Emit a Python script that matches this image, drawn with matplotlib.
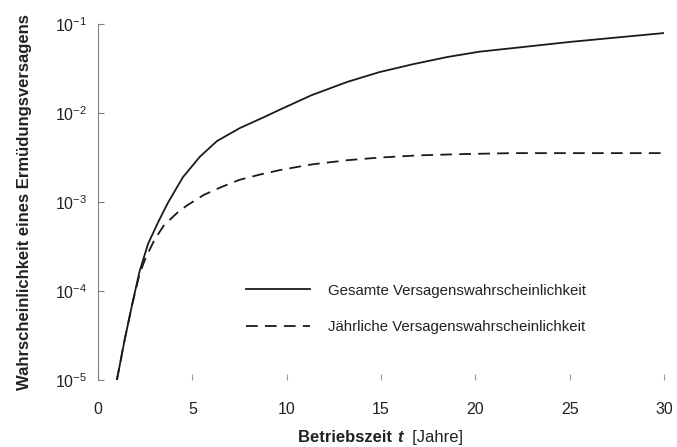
import matplotlib

matplotlib.use("Agg")
import matplotlib.pyplot as plt
import numpy as np
from matplotlib.offsetbox import AnchoredOffsetbox, HPacker, TextArea

plt.rcParams["font.family"] = ["Liberation Sans", "DejaVu Sans"]
plt.rcParams["mathtext.fontset"] = "custom"
plt.rcParams["mathtext.rm"] = "Liberation Sans"
plt.rcParams["mathtext.it"] = "Liberation Sans:italic"
plt.rcParams["mathtext.bf"] = "Liberation Sans:bold"

# values (log10 of the probability)
t_total = [1.0, 1.4, 1.8, 2.2, 2.65, 3.2, 3.7, 4.5, 5.4, 6.3, 7.5, 8.9, 9.65, 11.3,
           13.2, 14.9, 16.7, 18.5, 20.2, 22.4, 25, 27.5, 30]
log_total = [-5.0, -4.56, -4.16, -3.78, -3.47, -3.22, -3.01, -2.72, -2.49, -2.315,
             -2.17, -2.035, -1.96, -1.80, -1.65, -1.54, -1.45, -1.37, -1.31, -1.26,
             -1.20, -1.15, -1.10]

t_annual = [1.0, 1.4, 1.8, 2.2, 2.5, 3.0, 3.5, 4.2, 4.7, 5.6, 6.55, 7.5, 8.6, 9.65,
            10.7, 11.4, 13.2, 14.9, 17, 19.5, 22, 25, 30]
log_annual = [-5.0, -4.56, -4.16, -3.81, -3.64, -3.42, -3.26, -3.12, -3.04, -2.92,
              -2.83, -2.75, -2.69, -2.64, -2.60, -2.575, -2.53, -2.50, -2.475, -2.46,
              -2.45, -2.45, -2.45]

labels = ["Gesamte Versagenswahrscheinlichkeit",
          "Jährliche Versagenswahrscheinlichkeit"]
x_ticks = [0, 5, 10, 15, 20, 25, 30]
y_ticks = [1e-5, 1e-4, 1e-3, 1e-2, 1e-1]
y_ticklabels = [r"10$^{-5}$", r"10$^{-4}$", r"10$^{-3}$", r"10$^{-2}$", r"10$^{-1}$"]

fig = plt.figure(figsize=(6.77, 4.47), dpi=100)
ax = fig.add_axes([0.1448, 0.150, 0.981 - 0.1448, 0.946 - 0.150])

ax.plot(t_total, 10 ** np.array(log_total), color="#1a1a1a", lw=1.3, label=labels[0])
ax.plot(t_annual, 10 ** np.array(log_annual), color="#1a1a1a", lw=1.3,
        ls=(0, (6.5, 4)), label=labels[1])

ax.set_yscale("log")
ax.set_xlim(0, 30)
ax.set_ylim(1e-5, 1e-1)
ax.set_xticks(x_ticks)
ax.set_yticks(y_ticks)
ax.set_yticklabels(y_ticklabels)
ax.minorticks_off()

for s in ("top", "right", "bottom"):
    ax.spines[s].set_visible(False)
ax.spines["left"].set_color("#808080")
ax.spines["left"].set_linewidth(0.8)
ax.tick_params(axis="y", direction="in", length=4, width=0.8, color="#808080",
               labelsize=11.5, pad=8, labelcolor="#222222")
ax.tick_params(axis="x", direction="in", length=4, width=0.8, color="#999999",
               labelsize=11.5, pad=16, labelcolor="#222222")

ax.set_ylabel("Wahrscheinlichkeit eines Ermüdungsversagens", fontsize=12,
              fontweight="bold", color="#222222", labelpad=16)

ax.legend(loc="upper left", bbox_to_anchor=(0.237, 0.309), frameon=False,
          fontsize=10.8, handlelength=4.3, handletextpad=1.2, labelspacing=1.5,
          labelcolor="#222222")

# x label with mixed bold / bold-italic / regular parts
parts = HPacker(children=[
    TextArea("Betriebszeit ", textprops=dict(fontsize=12, fontweight="bold",
                                             color="#222222")),
    TextArea("t", textprops=dict(fontsize=12, fontweight="bold", style="italic",
                                 color="#222222")),
    TextArea("  [Jahre]", textprops=dict(fontsize=12, color="#222222")),
], align="baseline", pad=0, sep=0)
box = AnchoredOffsetbox(loc="center", child=parts, frameon=False,
                        bbox_to_anchor=(0.562, 0.022), bbox_transform=fig.transFigure,
                        pad=0, borderpad=0)
fig.add_artist(box)

fig.savefig("out.png", dpi=100)
